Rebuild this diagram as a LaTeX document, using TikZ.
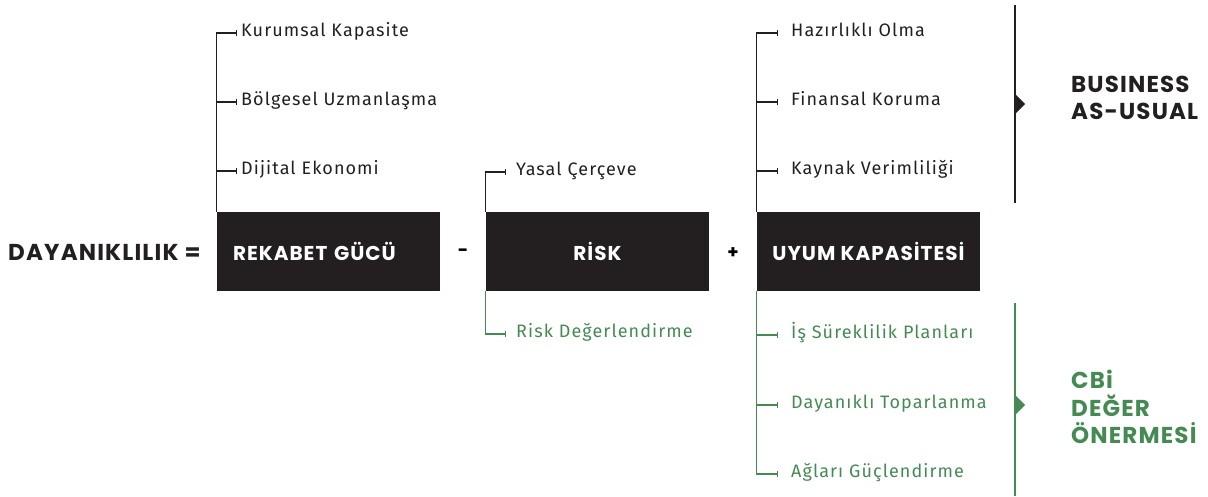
\documentclass[tikz,border=0pt]{standalone}
\usepackage{fontspec}
\setmainfont{Fira Sans}[LetterSpace=6]
\newfontfamily\headfont{Poppins}[LetterSpace=5]
\usetikzlibrary{arrows.meta}

\definecolor{boxblack}{HTML}{231F20}
\definecolor{cbigreen}{HTML}{458A53}

\tikzset{
  box/.style={fill=boxblack, text=white, minimum width=223pt, minimum height=79pt,
    inner sep=0pt, font=\headfont\bfseries\fontsize{20}{24}\selectfont},
  leaf/.style={anchor=west, inner ysep=0pt, text height=1.45ex, text depth=0pt,
    font=\fontsize{18}{22}\selectfont, text=boxblack},
  branch/.style={line width=1.3pt, draw=boxblack, -{Bar[width=6pt,line width=1.3pt]}},
  head/.style={anchor=west, align=left, inner sep=0pt,
    font=\headfont\bfseries\fontsize{23}{27.5}\selectfont}
}

\begin{document}
\begin{tikzpicture}[x=1pt, y=-1pt]
      \useasboundingbox (0,0) rectangle (1208,496);

      % Draw the equation
      \node[head, text=boxblack] (res) at (8,252) {DAYANIKLILIK =};
      \node[box, text width=191pt, align=left] (rek) at (328.5,251.5) {REKABET GÜCÜ};
      \node[box] (risk) at (597.5,251.5) {RİSK};
      \node[box] (uyum) at (868.5,251.5) {UYUM KAPASİTESİ};
      \node[head, anchor=center, font=\headfont\bfseries\fontsize{18}{20}\selectfont] (minus) at (463,253) {-};
      \node[head, anchor=center, font=\headfont\bfseries\fontsize{18}{20}\selectfont] (plus) at (733,253) {+};

      % Draw the branches of REKABET GÜCÜ
      \node[leaf, inner xsep=4pt] (kur) at (237,33) {Kurumsal Kapasite};
      \node[leaf, inner xsep=4pt] (bol) at (237,102) {Bölgesel Uzmanlaşma};
      \node[leaf, inner xsep=4pt] (dij) at (237,171) {Dijital Ekonomi};
      \draw[branch] (rek.north west) |- (kur.west);
      \draw[branch] (rek.north west |- bol.west) -- (bol.west);
      \draw[branch] (rek.north west |- dij.west) -- (dij.west);

      % Draw the branches of RİSK
      \node[leaf, inner xsep=10pt] (yas) at (506,172) {Yasal Çerçeve};
      \node[leaf, inner xsep=10pt, text=cbigreen] (rde) at (506,334) {Risk Değerlendirme};
      \draw[branch] (risk.north west) |- (yas.west);
      \draw[branch, draw=cbigreen] (risk.south west) |- (rde.west);

      % Draw the branches of UYUM KAPASİTESİ
      \node[leaf, inner xsep=13pt] (haz) at (778,33) {Hazırlıklı Olma};
      \node[leaf, inner xsep=13pt] (fin) at (778,102) {Finansal Koruma};
      \node[leaf, inner xsep=13pt] (kay) at (778,171) {Kaynak Verimliliği};
      \draw[branch] (uyum.north west) |- (haz.west);
      \draw[branch] (uyum.north west |- fin.west) -- (fin.west);
      \draw[branch] (uyum.north west |- kay.west) -- (kay.west);

      \node[leaf, inner xsep=13pt, text=cbigreen] (isp) at (778,335) {İş Süreklilik Planları};
      \node[leaf, inner xsep=13pt, text=cbigreen] (dto) at (778,405) {Dayanıklı Toparlanma};
      \node[leaf, inner xsep=13pt, text=cbigreen] (agl) at (778,474) {Ağları Güçlendirme};
      \draw[branch, draw=cbigreen] (uyum.south west) |- (agl.west);
      \draw[branch, draw=cbigreen] (uyum.south west |- isp.west) -- (isp.west);
      \draw[branch, draw=cbigreen] (uyum.south west |- dto.west) -- (dto.west);

      % Draw the two brackets on the right
      \coordinate (bautop) at (1015,5);
      \coordinate (baubot) at (1015,203);
      \coordinate (cbitop) at (1015,303);
      \coordinate (cbibot) at (1015,496);
      \draw[line width=2pt, boxblack] (bautop) -- (baubot);
      \fill[boxblack] (1016,95) -- (1025,104) -- (1016,113) -- cycle;
      \draw[line width=2pt, cbigreen] (cbitop) -- (cbibot);
      \fill[cbigreen] (1016,396) -- (1025,405) -- (1016,414) -- cycle;

      \node[head, text=boxblack] (bau) at (1071,98) {BUSINESS\\AS-USUAL};
      \node[head, text=cbigreen] (cbi) at (1071,407) {CBi\\DEĞER\\ÖNERMESİ};
\end{tikzpicture}
\end{document}
